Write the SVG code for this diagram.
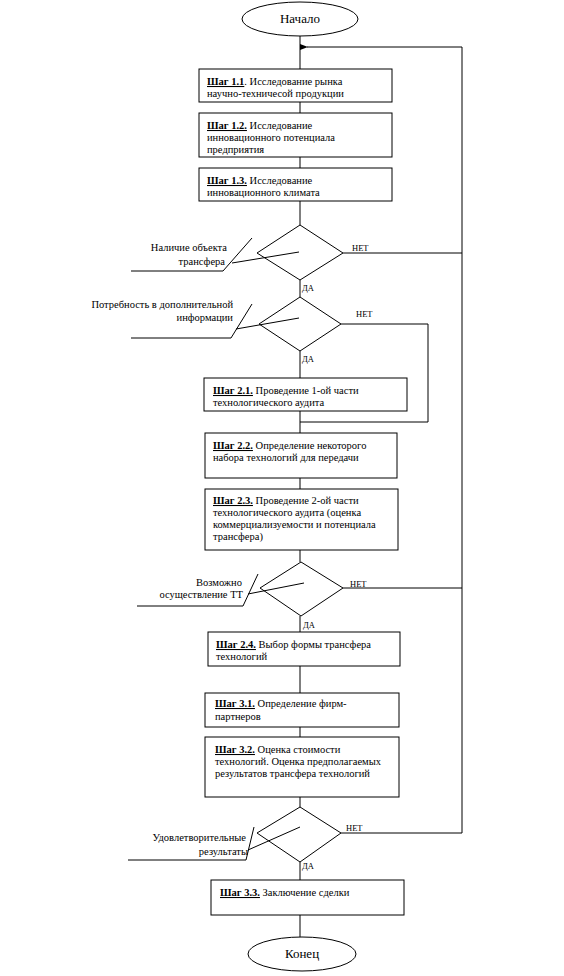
<svg xmlns="http://www.w3.org/2000/svg" width="564" height="976" viewBox="0 0 564 976" font-family="'Liberation Serif', 'DejaVu Serif', serif">
<style>
text{font-family:'Liberation Serif','DejaVu Serif',serif;fill:#000}
.t{font-size:10.5px}
.b{font-weight:bold;text-decoration:underline}
.lab{font-size:10.5px;text-anchor:end}
.yn{font-size:8.5px}
.term{font-size:13px;text-anchor:middle}
.box{fill:#fff;stroke:#000;stroke-width:1}
.dia{fill:none;stroke:#000;stroke-width:1}
.ln{fill:none;stroke:#000;stroke-width:1}
</style>
<defs>
<marker id="ah" markerWidth="8" markerHeight="6" refX="1" refY="3" orient="auto" markerUnits="userSpaceOnUse">
<path d="M8,0 L0,3 L8,6 Z" fill="#000"/>
</marker>
</defs>
<rect width="564" height="976" fill="#fff"/>
<g id="connectors">
<path class="ln" d="M300,36 V69 M300,102 V113 M300,157 V168 M300,201 V225 M300,280 V297 M300,351 V378 M300,411 V433 M300,478 V489 M300,550 V562 M300,616 V632 M300,666 V693 M300,727 V737 M300,797 V807 M300,862 V880 M300,915 V937"/>
<path class="ln" d="M343,253 H462 M343,588 H462 M341,833 H462 V47 H307" marker-end="url(#ah)"/>
<path class="ln" d="M341,324 H428 V422 H300"/>
<path class="ln" d="M299,252 L232,263 M252,238 L223,271 H131"/>
<path class="ln" d="M299,318 L236,329 M252,304 L231,338 H131"/>
<path class="ln" d="M304,583 L248,594 M258,574 L243,606 H137"/>
<path class="ln" d="M300,827 L248,850 M254,827 L246,860 H128"/>
</g>
<g id="start">
<ellipse cx="300" cy="19" rx="58" ry="17" class="box"/>
<text x="300" y="23" class="term">Начало</text>
</g>
<g id="step11">
<rect x="199" y="69" width="193" height="33" class="box"/>
<text x="207" y="85" class="t"><tspan class="b">Шаг 1.1</tspan>. Исследование рынка</text>
<text x="207" y="97" class="t">научно-техничесой продукции</text>
</g>
<g id="step12">
<rect x="199" y="113" width="193" height="44" class="box"/>
<text x="207" y="129" class="t"><tspan class="b">Шаг 1.2.</tspan> Исследование</text>
<text x="207" y="141" class="t">инновационного потенциала</text>
<text x="207" y="153" class="t">предприятия</text>
</g>
<g id="step13">
<rect x="199" y="168" width="193" height="33" class="box"/>
<text x="207" y="184" class="t"><tspan class="b">Шаг 1.3.</tspan> Исследование</text>
<text x="207" y="196" class="t">инновационного климата</text>
</g>
<g id="dec1">
<path class="dia" d="M300,225 L343,253 L300,280 L257,253 Z"/>
<text x="227" y="251" class="lab">Наличие объекта</text>
<text x="225" y="265" class="lab">трансфера</text>
<text x="352" y="251" class="yn">НЕТ</text>
<text x="302" y="291" class="yn">ДА</text>
</g>
<g id="dec2">
<path class="dia" d="M300,297 L341,324 L300,351 L259,324 Z"/>
<text x="233" y="308" class="lab">Потребность в дополнительной</text>
<text x="233" y="321" class="lab">информации</text>
<text x="356" y="317" class="yn">НЕТ</text>
<text x="302" y="362" class="yn">ДА</text>
</g>
<g id="step21">
<rect x="204" y="378" width="203" height="33" class="box"/>
<text x="213" y="394" class="t"><tspan class="b">Шаг 2.1.</tspan> Проведение 1-ой части</text>
<text x="213" y="406" class="t">технологического аудита</text>
</g>
<g id="step22">
<rect x="205" y="433" width="192" height="45" class="box"/>
<text x="213" y="449" class="t"><tspan class="b">Шаг 2.2.</tspan> Определение некоторого</text>
<text x="213" y="461" class="t">набора технологий для передачи</text>
</g>
<g id="step23">
<rect x="205" y="489" width="193" height="61" class="box"/>
<text x="213" y="504" class="t"><tspan class="b">Шаг 2.3.</tspan> Проведение 2-ой части</text>
<text x="213" y="516" class="t">технологического аудита (оценка</text>
<text x="213" y="528" class="t">коммерциализуемости и потенциала</text>
<text x="213" y="540" class="t">трансфера)</text>
</g>
<g id="dec3">
<path class="dia" d="M301,562 L343,588 L301,616 L260,588 Z"/>
<text x="242" y="586" class="lab">Возможно</text>
<text x="243" y="598" class="lab">осуществление ТТ</text>
<text x="350" y="587" class="yn">НЕТ</text>
<text x="303" y="628" class="yn">ДА</text>
</g>
<g id="step24">
<rect x="208" y="632" width="192" height="34" class="box"/>
<text x="216" y="648" class="t"><tspan class="b">Шаг 2.4.</tspan> Выбор формы трансфера</text>
<text x="216" y="660" class="t">технологий</text>
</g>
<g id="step31">
<rect x="205" y="693" width="194" height="34" class="box"/>
<text x="215" y="707" class="t"><tspan class="b">Шаг 3.1.</tspan> Определение фирм-</text>
<text x="215" y="720" class="t">партнеров</text>
</g>
<g id="step32">
<rect x="205" y="737" width="194" height="60" class="box"/>
<text x="215" y="753" class="t"><tspan class="b">Шаг 3.2.</tspan> Оценка стоимости</text>
<text x="215" y="765" class="t">технологий. Оценка предполагаемых</text>
<text x="215" y="777" class="t">результатов трансфера технологий</text>
</g>
<g id="dec4">
<path class="dia" d="M300,807 L341,833 L300,862 L257,833 Z"/>
<text x="246" y="841" class="lab">Удовлетворительные</text>
<text x="248" y="855" class="lab">результаты</text>
<text x="346" y="831" class="yn">НЕТ</text>
<text x="302" y="869" class="yn">ДА</text>
</g>
<g id="step33">
<rect x="211" y="880" width="193" height="35" class="box"/>
<text x="220" y="896" class="t"><tspan class="b">Шаг 3.3.</tspan> Заключение сделки</text>
</g>
<g id="end">
<ellipse cx="302" cy="954" rx="54" ry="17" class="box"/>
<text x="302" y="958" class="term">Конец</text>
</g>
</svg>
